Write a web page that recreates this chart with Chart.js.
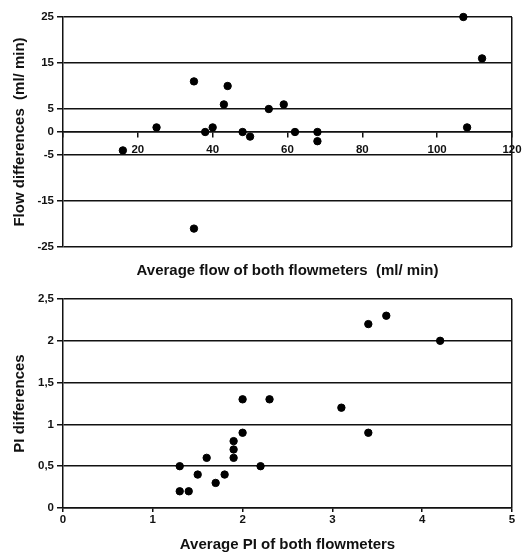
<!DOCTYPE html>
<html>
<head>
<meta charset="utf-8">
<script src="https://cdn.jsdelivr.net/npm/chart.js@4/dist/chart.umd.min.js"></script>
<style>
  body { margin: 0; background: #fff; }
  #wrap { position: relative; width: 531px; height: 554px; }
  canvas { position: absolute; left: 0; }
</style>
</head>
<body>
<div id="wrap">
  <canvas id="flowChart" width="531" height="280" style="top:0"></canvas>
  <canvas id="piChart" width="531" height="274" style="top:280px"></canvas>
</div>
<script>
// top chart: flow
const flowAvg = [16, 25, 35, 38, 40, 43, 44, 48, 50, 55, 59, 62, 68, 68, 107, 108, 112, 35];
const flowDiff = [-4, 1, 11, 0, 1, 6, 10, 0, -1, 5, 6, 0, 0, -2, 25, 1, 16, -21];
const flowYTicks = [-25, -15, -5, 0, 5, 15, 25];

// bottom chart: PI
const piAvg = [1.3, 1.3, 1.4, 1.5, 1.6, 1.7, 1.8, 1.9, 1.9, 1.9, 2.0, 2.2, 3.4, 2.0, 2.3, 3.1, 3.4, 3.6, 4.2];
const piDiff = [0.5, 0.2, 0.2, 0.4, 0.6, 0.3, 0.4, 0.8, 0.7, 0.6, 0.9, 0.5, 0.9, 1.3, 1.3, 1.2, 2.2, 2.3, 2.0];

Chart.defaults.font.family = "'Liberation Sans', Arial, sans-serif";
Chart.defaults.font.weight = 'bold';
Chart.defaults.color = '#111';

const lineCol = '#111';
const tickFont = { size: 11.5, weight: 'bold' };
const titleFont = { size: 15, weight: 'bold' };

function toPoints(xs, ys) {
    return xs.map((x, i) => ({ x: x, y: ys[i] }));
}

// flow chart
new Chart(document.getElementById('flowChart'), {
    type: 'scatter',
    data: {
        datasets: [{
            data: toPoints(flowAvg, flowDiff),
            backgroundColor: '#000',
            borderColor: '#000',
            pointRadius: 3.7,
            clip: false
        }]
    },
    options: {
        responsive: false,
        animation: false,
        layout: { padding: { top: 17, right: 19, left: 0, bottom: 0 } },
        plugins: {
            legend: { display: false },
            tooltip: { enabled: false },
            title: {
                display: true,
                position: 'bottom',
                fullSize: false,
                text: 'Average flow of both flowmeters  (ml/ min)',
                font: titleFont,
                color: '#111',
                padding: { top: 15, bottom: 0 }
            }
        },
        scales: {
            x: {
                type: 'linear',
                position: { y: 0 },
                min: 0,
                max: 120,
                ticks: {
                    stepSize: 20,
                    font: tickFont,
                    padding: 6,
                    callback: v => v === 0 ? '' : v
                },
                grid: {
                    color: c => c.tick && c.tick.value === 120 ? lineCol : 'rgba(0,0,0,0)',
                    tickColor: lineCol,
                    tickLength: 5,
                    lineWidth: 1.5
                },
                border: { color: lineCol, width: 1.5 }
            },
            y: {
                min: -25,
                max: 25,
                afterBuildTicks: s => { s.ticks = flowYTicks.map(v => ({ value: v })); },
                afterFit: s => { s.width = 63; },
                ticks: { font: tickFont, padding: 3 },
                grid: { color: lineCol, tickLength: 6, lineWidth: 1.5 },
                border: { color: lineCol, width: 1.5 },
                title: {
                    display: true,
                    text: 'Flow differences  (ml/ min)',
                    font: titleFont,
                    color: '#111',
                    padding: { top: 11, bottom: 0 }
                }
            }
        }
    }
});

// PI chart
new Chart(document.getElementById('piChart'), {
    type: 'scatter',
    data: {
        datasets: [{
            data: toPoints(piAvg, piDiff),
            backgroundColor: '#000',
            borderColor: '#000',
            pointRadius: 3.7,
            clip: false
        }]
    },
    options: {
        responsive: false,
        animation: false,
        layout: { padding: { top: 19, right: 19, left: 0, bottom: 0 } },
        plugins: {
            legend: { display: false },
            tooltip: { enabled: false }
        },
        scales: {
            x: {
                type: 'linear',
                min: 0,
                max: 5,
                afterFit: s => { s.height = 46; },
                ticks: { stepSize: 1, font: tickFont, padding: 1 },
                grid: {
                    color: c => c.tick && c.tick.value === 5 ? lineCol : 'rgba(0,0,0,0)',
                    tickColor: lineCol,
                    tickLength: 4,
                    lineWidth: 1.5
                },
                border: { color: lineCol, width: 1.5 },
                title: {
                    display: true,
                    text: 'Average PI of both flowmeters',
                    font: titleFont,
                    color: '#111',
                    padding: { top: 0, bottom: 0 }
                }
            },
            y: {
                min: 0,
                max: 2.5,
                afterFit: s => { s.width = 63; },
                ticks: {
                    stepSize: 0.5,
                    font: tickFont,
                    padding: 3,
                    callback: v => String(v).replace('.', ',')
                },
                grid: { color: lineCol, tickLength: 6, lineWidth: 1.5 },
                border: { color: lineCol, width: 1.5 },
                title: {
                    display: true,
                    text: 'PI differences',
                    font: titleFont,
                    color: '#111',
                    padding: { top: 11, bottom: 0 }
                }
            }
        }
    }
});
</script>
</body>
</html>
